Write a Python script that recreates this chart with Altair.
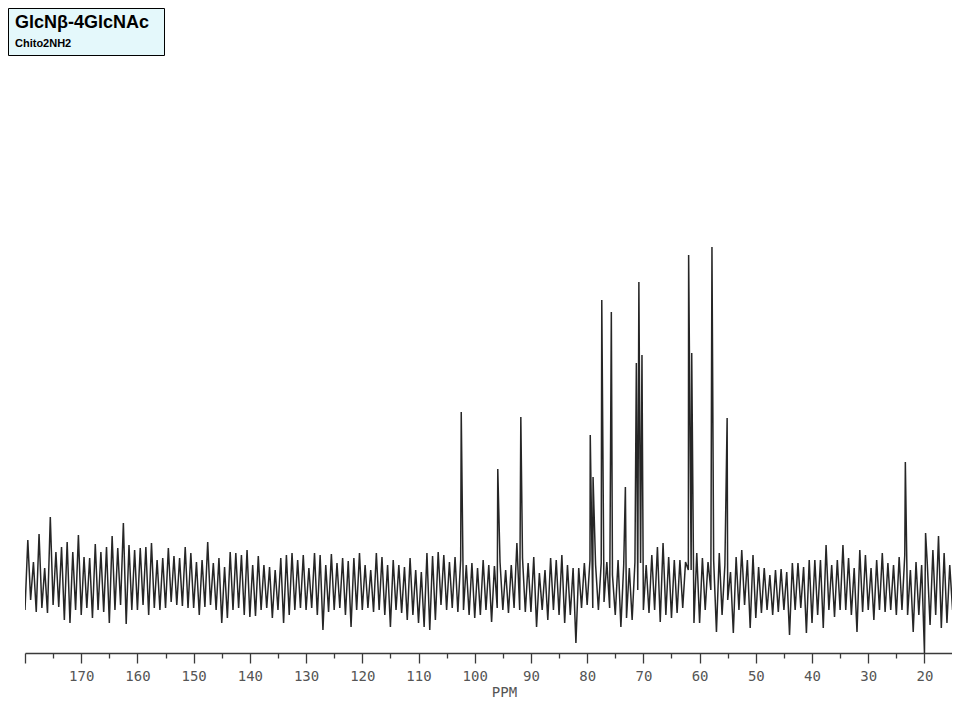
import altair as alt
import pandas as pd

# Baseline noise: alternating trough / crest every 0.5 ppm,
# in px above the baseline, one list per 10 ppm starting at its left edge
noise_180 = [-30, 40, -20, 18, -32, 46, -28, 12, -33, 63, -25, 28, -27, 33, -40, 38, -43, 28, -30, 45]
noise_170 = [-35, 23, -28, 22, -38, 36, -30, 28, -32, 33, -43, 44, -30, 32, -25, 57, -44, 35, -30, 30]
noise_160 = [-30, 32, -25, 33, -35, 37, -28, 20, -30, 22, -28, 32, -22, 24, -25, 22, -26, 33, -28, 27]
noise_150 = [-28, 18, -35, 20, -27, 38, -25, 17, -30, 22, -43, 13, -38, 28, -30, 27, -28, 25, -35, 30]
noise_140 = [-37, 15, -36, 24, -30, 15, -28, 13, -38, 10, -30, 22, -43, 25, -35, 27, -30, 20, -28, 25]
noise_130 = [-30, 12, -28, 27, -35, 25, -50, 15, -32, 26, -30, 17, -28, 22, -35, 19, -47, 22, -30, 27]
noise_120 = [-30, 15, -28, 10, -32, 27, -30, 23, -35, 15, -47, 20, -30, 15, -33, 13, -40, 22, -35, 10]
noise_110 = [-43, 8, -47, 27, -50, 24, -40, 28, -25, 25, -30, 18, -28, 23, -32, 20, -30, 15, -35, 17]
noise_100 = [-38, 12, -35, 20, -30, 15, -42, 14, -28, 18, -30, 10, -33, 15, -28, 37, -30, 22, -32, 17]
noise_90 = [-32, 23, -47, 7, -30, 10, -40, 22, -30, 20, -35, 25, -43, 15, -35, 12, -63, 12, -28, 17]
noise_80 = [-25, 20, -28, 15, -30, 17, -22, 18, -28, 5, -35, 20, -47, 15, -38, 12, -40, 18, -10, 17]
noise_70 = [-30, 15, -33, 25, -30, 33, -42, 37, -35, 23, -38, 20, -33, 20, -28, 18, 10, 10, -43, 27]
noise_60 = [-43, 22, -30, 18, -10, 20, -52, 27, -35, 15, -20, 8, -53, 23, -30, 30, -25, 20, -48, 25]
noise_50 = [-38, 13, -33, 12, -30, 5, -35, 10, -32, 11, -30, 8, -55, 17, -30, 17, -28, 13, -53, 20]
noise_40 = [-43, 20, -35, 20, -48, 35, -30, 15, -37, 20, -30, 35, -30, 22, -35, 12, -52, 30, -32, 25]
noise_30 = [-30, 12, -40, 20, -30, 27, -32, 17, -30, 15, -35, 23, -30, 25, -35, 10, -52, 18, -35, 15]
noise_20 = [-73, 17, -45, 30, -35, 44, -48, 27, -43, 15, -30]

# Resonances (ppm) and their heights above the baseline
peak_ppm = [102.4, 95.9, 91.8, 79.45, 78.95, 77.4, 75.7, 73.2, 71.25, 70.8,
            70.25, 61.95, 61.4, 57.8, 55.1, 23.4, 19.8]
peak_height = [168, 111, 163, 145, 103, 280, 268, 93, 217, 298,
               225, 325, 227, 333, 162, 118, 47]

tick_ppm = list(range(180, 14, -5))

noise = (noise_180 + noise_170 + noise_160 + noise_150 + noise_140 + noise_130
         + noise_120 + noise_110 + noise_100 + noise_90 + noise_80 + noise_70
         + noise_60 + noise_50 + noise_40 + noise_30 + noise_20)
noise_ppm = [180 - 0.5 * i for i in range(len(noise))]

spectrum = pd.DataFrame(
    {"ppm": noise_ppm + peak_ppm, "intensity": noise + peak_height}
).sort_values("ppm", ascending=False)

line = (
    alt.Chart(spectrum)
    .mark_line(color="#262626", strokeWidth=1.5, clip=True)
    .encode(
        alt.X("ppm:Q", scale=alt.Scale(domain=[180, 15.1], nice=False, zero=False))
        .axis(
            values=tick_ppm,
            labelExpr="datum.value % 10 === 0 && datum.value < 180 ? format(datum.value, 'd') : ''",
            tickSize={"condition": {"test": "datum.value % 10 === 0", "value": 10}, "value": 5},
            tickColor="#3a3a3a",
            tickWidth=1.3,
            domainColor="#3a3a3a",
            domainWidth=1.5,
            grid=False,
            labelFont="DejaVu Sans Mono",
            labelFontSize=14,
            labelColor="#555555",
            labelBaseline="middle",
            labelPadding=13,
            labelFlush=False,
            labelOverlap=False,
            titleFont="DejaVu Sans Mono",
            titleFontSize=14,
            titleFontWeight="normal",
            titleColor="#555555",
            titleX=479,
            titleY=39,
            titleAlign="center",
            titleBaseline="middle",
        )
        .title("PPM"),
        alt.Y("intensity:Q", scale=alt.Scale(domain=[-73, 350], nice=False, zero=False), axis=None),
        order=alt.Order("ppm:Q", sort="descending"),
    )
)

# Label box in the top left corner
one = pd.DataFrame({"k": [0]})
box = (
    alt.Chart(one)
    .mark_rect(fill="#e4f8fb", stroke="black", strokeWidth=1)
    .encode(x=alt.value(-16.5), x2=alt.value(139.5), y=alt.value(-221.5), y2=alt.value(-174.5))
)
name = (
    alt.Chart(one)
    .mark_text(align="left", baseline="alphabetic", font="Liberation Sans",
               fontWeight="bold", fontSize=18, color="black")
    .encode(x=alt.value(-10), y=alt.value(-202), text=alt.value("GlcNβ-4GlcNAc"))
)
code = (
    alt.Chart(one)
    .mark_text(align="left", baseline="alphabetic", font="Liberation Sans",
               fontWeight="bold", fontSize=11, color="black")
    .encode(x=alt.value(-10), y=alt.value(-183), text=alt.value("Chito2NH2"))
)

chart = (
    alt.layer(line, box, name, code)
    .properties(
        width=927,
        height=423,
        autosize=alt.AutoSizeParams(type="none"),
        padding={"left": 17, "top": 222, "right": 0, "bottom": 50},
    )
    .configure_view(stroke=None)
)

chart.save("out.html", embed_options={"renderer": "svg", "actions": False})
